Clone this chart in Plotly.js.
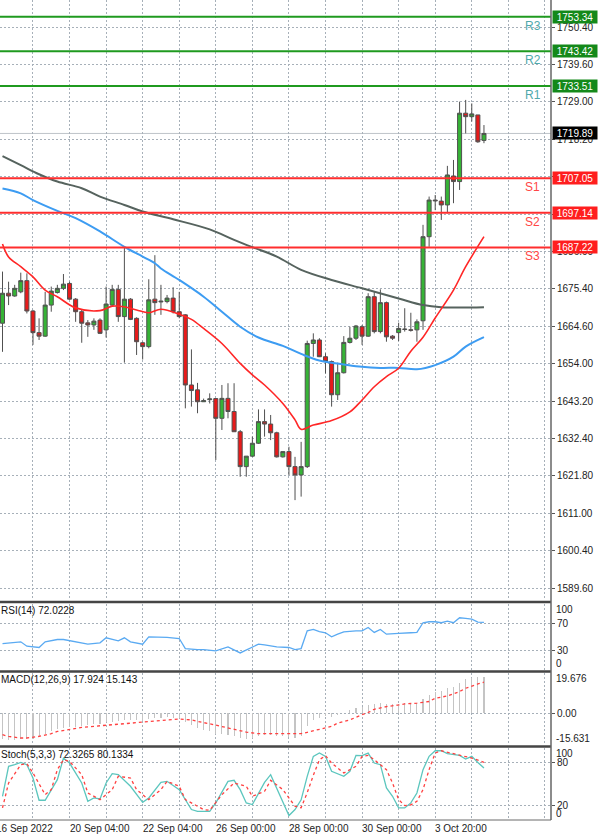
<!DOCTYPE html>
<html><head><meta charset="utf-8">
<script src="https://cdn.plot.ly/plotly-3.0.1.min.js"></script>
<style>html,body{margin:0;padding:0;background:#fff;}#chart{width:600px;height:840px;}</style>
</head><body><div id="chart"></div>
<script>
// ---- Price bars (H4), bar index 0..79 ----
const open  = [1665.5,1674.1,1673.3,1674.5,1677.7,1669.0,1662.8,1661.8,1670.7,1674.3,
               1675.5,1676.9,1672.4,1668.8,1665.6,1665.0,1666.4,1663.6,1670.7,1675.2,
               1667.4,1672.4,1666.9,1659.9,1658.8,1672.4,1671.6,1671.7,1672.7,1668.8,
               1667.9,1647.8,1646.4,1643.0,1643.6,1643.9,1638.25,1643.96,1640.2,1634.4,
               1624.4,1627.4,1631.1,1637.3,1636.6,1634.1,1627.2,1628.7,1624.4,1622.0,
               1624.4,1659.7,1660.7,1655.9,1654.5,1645.0,1651.3,1660.0,1661.2,1664.5,
               1661.8,1673.1,1663.1,1671.4,1661.8,1662.8,1663.7,1663.6,1663.6,1666.2,
               1690.3,1700.8,1700.5,1699.4,1707.7,1706.1,1725.7,1724.7,1725.2,1717.9];
const high  = [1680.3,1677.4,1676.5,1680.0,1679.8,1669.3,1666.9,1674.5,1676.0,1676.5,
               1679.6,1677.4,1672.7,1669.3,1666.4,1666.9,1666.9,1676.0,1676.5,1676.5,
               1687.4,1672.7,1667.2,1660.2,1678.1,1685.0,1676.5,1673.6,1675.8,1674.5,
               1668.1,1658.0,1648.4,1643.9,1645.4,1643.96,1647.8,1648.3,1648.3,1634.9,
               1627.4,1633.0,1640.8,1640.8,1639.2,1634.4,1628.7,1630.1,1627.2,1631.5,
               1660.5,1662.6,1661.2,1656.9,1654.8,1654.2,1661.8,1664.5,1665.0,1665.0,
               1674.1,1674.5,1675.2,1671.7,1662.1,1665.65,1669.8,1668.5,1666.6,1693.7,
               1701.8,1702.25,1701.8,1710.6,1712.3,1729.0,1729.5,1728.5,1725.2,1722.3];
const low   = [1657.3,1670.7,1673.1,1674.1,1668.3,1659.3,1660.7,1661.6,1668.8,1674.0,
               1675.0,1672.2,1665.9,1659.9,1661.6,1663.6,1662.4,1661.4,1670.2,1665.9,
               1654.2,1666.4,1656.4,1655.1,1658.3,1667.9,1667.9,1671.2,1668.3,1666.9,
               1641.1,1641.6,1639.7,1643.0,1642.5,1626.3,1634.9,1638.25,1634.4,1621.5,
               1621.5,1627.2,1630.9,1633.0,1632.0,1627.0,1627.0,1622.0,1614.8,1615.8,
               1624.0,1655.9,1655.8,1651.1,1641.6,1643.5,1651.1,1659.7,1660.7,1659.3,
               1661.6,1662.6,1662.6,1660.2,1660.7,1660.4,1663.1,1663.1,1660.2,1663.6,
               1687.4,1697.9,1695.1,1697.0,1699.9,1703.7,1719.9,1723.3,1717.2,1717.1];
const close = [1674.1,1673.3,1675.5,1677.7,1669.0,1662.8,1661.8,1670.7,1674.7,1675.5,
               1676.7,1672.4,1668.8,1665.5,1665.0,1666.1,1662.6,1671.0,1675.2,1667.4,
               1672.4,1666.6,1660.2,1658.8,1672.2,1671.4,1671.8,1672.7,1668.8,1667.4,
               1647.8,1646.2,1643.0,1643.3,1643.8,1638.25,1643.96,1640.2,1634.4,1624.4,
               1627.4,1631.1,1637.3,1636.6,1634.1,1627.2,1628.7,1624.4,1622.0,1624.4,
               1659.7,1660.7,1655.9,1654.5,1645.0,1651.3,1660.0,1661.2,1664.7,1661.8,
               1673.1,1663.1,1671.4,1661.6,1661.2,1664.0,1663.8,1663.5,1665.9,1690.3,
               1700.8,1700.6,1699.4,1708.0,1706.1,1725.7,1724.7,1725.5,1717.5,1719.89];

// ---- Moving averages (read at bar indices) ----
const maRedIdx  = [0,1,3,5,7,9,12,16,18,20,22,24,26,29,31,33,36,39,41,43,46,48,49,51,54,57,59,61,63,65,67,69,71,74,76,79];
const maRedVal  = [1688.2,1684.5,1681.7,1678.8,1675.0,1673.1,1669.9,1669.1,1670.4,1670.2,1669.3,1668.5,1669.5,1668.1,1666.6,1664.0,1659.7,1654.0,1650.7,1647.8,1642.5,1637.8,1635.1,1636.3,1637.6,1640.1,1643.5,1647.3,1650.2,1652.6,1657.5,1661.5,1667.0,1675.0,1681.7,1690.3];
const maBlueIdx = [0,3,5,9,12,16,20,23,25,26,29,33,36,39,42,46,49,52,56,59,62,65,68,71,74,76,79];
const maBlueVal = [1704.1,1702.7,1700.8,1697.7,1695.6,1691.8,1687.4,1684.6,1682.7,1681.2,1677.9,1673.1,1668.8,1664.5,1661.4,1659.0,1656.7,1654.8,1653.7,1653.0,1652.7,1652.7,1652.3,1653.5,1655.9,1658.8,1661.5];
const maGreyIdx = [0,3,6,9,13,16,20,23,28,34,38,41,45,49,54,59,65,69,72,79];
const maGreyVal = [1713.4,1710.8,1708.2,1706.1,1704.2,1701.8,1699.4,1697.5,1695.3,1692.4,1689.4,1687.3,1684.6,1680.8,1677.9,1675.5,1672.6,1670.7,1670.1,1670.1];

// ---- Pivot levels ----
const levelNames  = ['R3','R2','R1','S1','S2','S3'];
const levelValues = [1753.34,1743.42,1733.51,1707.05,1697.14,1687.22];
const currentPrice = 1719.89;

// ---- RSI(14) ----
const rsiIdx = [0,1,3,4,6,7,9,10,12,14,16,17,19,20,21,23,24,26,27,29,30,32,33,35,37,39,41,42,43,45,47,48,49,50,51,52,53,54,55,56,58,59,60,61,62,63,65,66,67,68,69,70,71,72,73,74,75,76,77,78,79];
const rsiVal = [40.1,41.2,42.7,36.1,34.1,42.7,46.2,46.2,42.7,39.1,41.2,48.8,44.2,48.8,42.7,39.1,50.3,50.3,49.3,47.7,32.5,31.0,31.0,29.0,35.1,25.9,35.1,39.1,38.1,35.1,34.1,31.0,32.5,59.4,61.4,58.0,56.4,50.3,54.3,57.9,59.4,59.4,64.5,56.9,61.4,54.3,55.4,56.4,56.4,56.9,71.6,73.1,73.1,71.6,74.1,71.6,79.2,78.2,77.1,72.6,72.02];

// ---- MACD(12,26,9): main (histogram) per bar, signal read at indices ----
const macdMain = [-12.5,-13.0,-13.0,-12.8,-12.5,-12.5,-11.5,-10.0,-9.0,-8.0,
                  -7.5,-7.0,-6.8,-6.5,-6.0,-5.5,-5.2,-4.5,-4.2,-4.0,
                  -3.5,-3.5,-3.5,-3.8,-3.0,-2.5,-2.2,-2.0,-2.2,-2.5,
                  -4.5,-6.0,-7.5,-8.5,-9.0,-10.0,-10.2,-10.5,-11.0,-12.3,
                  -12.5,-12.0,-11.2,-10.8,-10.8,-11.2,-11.2,-11.5,-12.0,-11.0,
                  -6.5,-3.5,-2.5,-1.5,-1.8,-1.0,0.3,1.5,2.5,3.0,
                  4.2,4.3,5.0,4.6,4.4,4.6,4.8,4.9,5.2,7.0,
                  9.0,10.3,11.0,12.2,13.0,15.0,16.5,17.4,17.6,17.924];
const macdSigIdx = [0,1,3,4,6,8,9,11,13,16,19,21,24,27,29,31,32,34,36,38,40,42,45,47,49,50,52,54,55,57,59,60,61,63,65,66,68,70,71,73,75,76,78,79];
const macdSigVal = [-10.6,-11.4,-12.2,-12.2,-11.4,-10.1,-9.0,-8.1,-7.0,-6.2,-5.4,-4.9,-4.2,-3.3,-2.9,-3.3,-4.1,-5.2,-6.5,-8.1,-9.3,-10.1,-10.1,-10.1,-10.1,-9.4,-7.8,-6.5,-4.9,-3.3,-0.8,0.3,1.9,3.2,4.0,4.5,4.9,5.7,7.3,8.4,10.6,12.2,14.3,15.143];

// ---- Stochastic(5,3,3) ----
const stochKIdx = [0,1,2,3,4,5,6,7,9,10,11,13,14,15,16,17,18,19,21,23,24,26,27,29,31,32,34,35,37,38,39,40,41,43,44,45,47,48,49,50,51,52,53,54,56,57,58,59,60,61,62,63,64,65,66,67,68,69,70,71,72,73,74,75,76,77,78,79];
const stochKVal = [32.9,74.5,76.8,80.0,76.8,58.3,27.4,27.4,56.0,86.0,79.1,51.4,26.0,30.6,29.2,51.4,64.3,63.0,46.8,24.6,30.6,52.3,53.7,42.2,14.5,12.1,12.1,23.7,53.7,55.1,42.2,23.7,21.4,52.3,63.0,44.5,6.2,14.5,28.0,60.6,88.4,93.0,88.4,67.6,60.6,67.6,89.7,89.3,93.0,79.1,76.8,44.5,32.9,16.8,16.8,23.7,37.5,69.9,88.4,96.2,96.2,92.1,90.5,89.7,84.7,88.4,80.0,72.33];
const stochDIdx = [0,1,3,4,5,7,8,9,10,11,13,14,16,18,19,21,22,24,26,27,29,30,33,34,36,38,40,41,43,44,46,48,49,50,51,52,53,54,56,58,59,60,61,63,64,65,66,67,68,69,70,71,72,74,76,77,79];
const stochDVal = [16.8,51.4,76.8,78.2,65.3,35.2,42.2,69.9,83.7,81.4,63.0,37.5,28.3,42.2,60.7,58.3,42.2,28.3,42.2,53.7,46.8,28.3,14.5,13.5,35.2,51.4,46.8,32.9,39.9,55.1,42.2,19.1,17.0,38.0,62.0,83.7,89.3,79.1,65.3,74.5,88.4,89.7,83.7,69.9,51.4,28.3,20.0,21.0,26.0,42.2,70.0,93.0,96.2,92.1,88.4,86.0,80.13];

// ---- Axis labels ----
const priceTicks = [1750.40,1739.60,1729.00,1718.20,1707.60,1696.80,1686.00,1675.40,1664.60,1654.00,1643.20,1632.40,1621.80,1611.00,1600.40,1589.60];
const hiddenPriceTicks = [1707.60,1696.80];   // covered by the S1 / S2 price tags in the reference
const gridIdx = [5,11,17,23,29,35,41,47,53,59,65,71,77,83,89];
const dateTickIdx = [-1,11,23,35,47,59,71];
const dateTickText = ['16 Sep 2022','20 Sep 04:00','22 Sep 04:00','26 Sep 00:00','28 Sep 00:00','30 Sep 00:00','3 Oct 20:00'];

// ---- Build ----
const barIdx = close.map((_, i) => i);
const X0 = -0.41, X1 = 90.0;
const GRID = '#a7b0b9';
const FONT = 'Liberation Sans, Arial, sans-serif';

const traces = [
  {type:'candlestick', x:barIdx, open:open, high:high, low:low, close:close, xaxis:'x', yaxis:'y',
   increasing:{line:{color:'#505050', width:1}, fillcolor:'#36b336'},
   decreasing:{line:{color:'#505050', width:1}, fillcolor:'#e81a1a'},
   whiskerwidth:0, hoverinfo:'skip'},
  {type:'scatter', mode:'lines', x:maGreyIdx, y:maGreyVal, line:{color:'#56635e', width:2, shape:'spline'}, xaxis:'x', yaxis:'y', hoverinfo:'skip'},
  {type:'scatter', mode:'lines', x:maBlueIdx, y:maBlueVal, line:{color:'#3d9cf2', width:2, shape:'spline'}, xaxis:'x', yaxis:'y', hoverinfo:'skip'},
  {type:'scatter', mode:'lines', x:maRedIdx, y:maRedVal, line:{color:'#ff2626', width:1.6, shape:'spline'}, xaxis:'x', yaxis:'y', hoverinfo:'skip'},
  {type:'scatter', mode:'lines', x:rsiIdx, y:rsiVal, line:{color:'#5aaaf2', width:1.3}, xaxis:'x', yaxis:'y2', hoverinfo:'skip'},
  {type:'bar', x:barIdx, y:macdMain, width:0.18, marker:{color:'#c4c4c4', line:{width:0}}, xaxis:'x', yaxis:'y3', hoverinfo:'skip'},
  {type:'scatter', mode:'lines', x:macdSigIdx, y:macdSigVal, line:{color:'#ff4040', width:1.3, dash:'dot'}, xaxis:'x', yaxis:'y3', hoverinfo:'skip'},
  {type:'scatter', mode:'lines', x:stochKIdx, y:stochKVal, line:{color:'#5cc6be', width:1.3}, xaxis:'x', yaxis:'y4', hoverinfo:'skip'},
  {type:'scatter', mode:'lines', x:stochDIdx, y:stochDVal, line:{color:'#ff4040', width:1.3, dash:'dot'}, xaxis:'x', yaxis:'y4', hoverinfo:'skip'}
];

const shapes = [];
const annotations = [];
levelNames.forEach((name, k) => {
  const isR = name[0] === 'R';
  const v = levelValues[k];
  shapes.push({type:'line', xref:'paper', x0:0, x1:1, yref:'y', y0:v, y1:v, layer:'above',
               line:{color: isR ? '#1f9a1f' : '#ff2e2e', width:2}});
  annotations.push({xref:'paper', x:1, xanchor:'left', xshift:1, yref:'y', y:v, yanchor:'middle',
    text:v.toFixed(2), showarrow:false, bgcolor: isR ? '#14891a' : '#ff1e1e', width:44, height:12,
    borderpad:0, font:{family:FONT, size:10, color:'#fff'}});
  annotations.push({xref:'x', x:87, xanchor:'center', yref:'y', y:v, yanchor:'middle', yshift:-9,
    text:name, showarrow:false, font:{family:FONT, size:12, color: isR ? '#4fa9ab' : '#ff4646'}});
});
shapes.push({type:'line', xref:'paper', x0:0, x1:1, yref:'y', y0:currentPrice, y1:currentPrice, layer:'below',
             line:{color:'#bfc4c9', width:1}});
annotations.push({xref:'paper', x:1, xanchor:'left', xshift:1, yref:'y', y:currentPrice, yanchor:'middle',
  text:currentPrice.toFixed(2), showarrow:false, bgcolor:'#000', width:44, height:12, borderpad:0,
  font:{family:FONT, size:10, color:'#fff'}});

// panel separators and right axis line
[0.26585, 0.1811, 0.08963].forEach(p => shapes.push({type:'line', xref:'paper', x0:0, x1:1, yref:'paper', y0:p, y1:p,
  line:{color:'#454545', width:2.5}, layer:'above'}));
shapes.push({type:'line', xref:'paper', x0:0, x1:1, yref:'paper', y0:0, y1:0, line:{color:'#6a6a6a', width:1}, layer:'above'});
shapes.push({type:'line', xref:'paper', x0:1, x1:1, yref:'paper', y0:0, y1:1, line:{color:'#666', width:1.5}, layer:'above'});

// indicator titles
[['y2','RSI(14) 72.0228'],['y3','MACD(12,26,9) 17.924 15.143'],['y4','Stoch(5,3,3) 72.3265 80.1334']].forEach(t => {
  annotations.push({xref:'paper', x:0, xanchor:'left', xshift:-1, yref:t[0]+' domain', y:1, yanchor:'top', yshift:1,
    text:t[1], showarrow:false, font:{family:FONT, size:10, color:'#111'}});
});
// edge labels of sub panels
[['y2',100,'100','top'],['y2',0,'0','bottom'],['y3',19.676,'19.676','top'],['y3',-15.631,'-15.631','bottom'],
 ['y4',100,'100','top'],['y4',0,'0','bottom']].forEach(e => {
  annotations.push({xref:'paper', x:1, xanchor:'left', xshift:3, yref:e[0], y:e[1], yanchor:e[3], yshift: e[3]==='top'?2:-1,
    text:e[2], showarrow:false, font:{family:FONT, size:10, color:'#222'}});
});
// date labels
dateTickIdx.forEach((d, k) => {
  annotations.push({xref:'paper', x:(d - X0)/(X1 - X0), xanchor:'left', xshift:-2, yref:'paper', y:0, yanchor:'top', yshift:-1,
    text:dateTickText[k], showarrow:false, font:{family:FONT, size:10, color:'#222'}});
});

const yCommon = {side:'right', anchor:'x', ticks:'outside', ticklen:3, tickcolor:'#555', showgrid:true,
  gridcolor:GRID, griddash:'2px,2px', gridwidth:1, zeroline:false, showline:false, fixedrange:true,
  tickfont:{family:FONT, size:10, color:'#222'}};

const layout = {
  width:600, height:840, margin:{l:0, r:49, t:0, b:20},
  paper_bgcolor:'#fff', plot_bgcolor:'#fff', showlegend:false, hovermode:false,
  font:{family:FONT, size:10, color:'#222'},
  boxgap:0.34, boxgroupgap:0, bargap:0,
  xaxis:{domain:[0,1], range:[X0,X1], anchor:'y4', tickvals:gridIdx, showticklabels:false, ticks:'',
    showgrid:true, gridcolor:GRID, griddash:'2px,2px', gridwidth:1, zeroline:false, showline:false,
    rangeslider:{visible:false}, fixedrange:true},
  yaxis:Object.assign({}, yCommon, {domain:[0.26829,1], range:[1586.17,1758.14], tickvals:priceTicks,
    ticktext:priceTicks.map(v => hiddenPriceTicks.includes(v) ? '' : v.toFixed(2))}),
  yaxis2:Object.assign({}, yCommon, {domain:[0.18293,0.26341], range:[0,100], tickvals:[70,30], ticktext:['70','30']}),
  yaxis3:Object.assign({}, yCommon, {domain:[0.09146,0.17927], range:[-15.631,19.676], tickvals:[0], ticktext:['0.00']}),
  yaxis4:Object.assign({}, yCommon, {domain:[0,0.0878], range:[0,100], tickvals:[80,20], ticktext:['80','20']}),
  shapes:shapes, annotations:annotations
};

Plotly.newPlot('chart', traces, layout, {displayModeBar:false, staticPlot:true});
</script></body></html>
